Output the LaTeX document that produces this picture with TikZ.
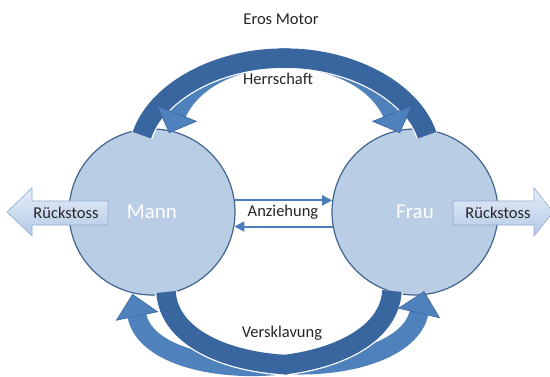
\documentclass[tikz,border=0pt]{standalone}
\usepackage{fontspec}
\setmainfont{Carlito}
\usetikzlibrary{arrows.meta,calc}
\definecolor{circfill}{HTML}{B9CDE5}
\definecolor{circedge}{HTML}{41658F}
\definecolor{lt}{HTML}{4F81BD}
\definecolor{dk}{HTML}{3A669F}
\definecolor{headedge}{HTML}{3A64A0}
\definecolor{txt}{HTML}{262626}
\definecolor{rtop}{HTML}{E6EEF8}
\definecolor{rbot}{HTML}{B3C8E6}
\definecolor{redge}{HTML}{8DAAD6}
\definecolor{anz}{HTML}{4A7EBB}

% part of a Bezier band (prefix s,p,q,b), from time 0 to #2, stroked with colour #3 and width #4
\newcommand{\bezseg}[4]{%
  \begin{pgfscope}
  \pgfsetbuttcap
  \pgfsetlinewidth{#4}\pgfsetstrokecolor{#3}
  \pgfpathcurvebetweentime{0}{#2}{\pgfpointanchor{#1s}{center}}{\pgfpointanchor{#1p}{center}}{\pgfpointanchor{#1q}{center}}{\pgfpointanchor{#1b}{center}}
  \pgfusepath{stroke}
  \end{pgfscope}}

\tikzset{
  person/.style={circle, minimum size=166pt, inner sep=0pt, fill=circfill, draw=circedge, line width=1.2pt,
    text=white, font=\fontsize{21}{24}\selectfont},
  lbl/.style={text=txt, font=\fontsize{16.5}{19}\selectfont, inner sep=0pt},
  lightband/.style={draw=lt, line width=19pt, line cap=butt},
  halo/.style={draw=white, line width=22pt, line cap=butt},
  darkband/.style={draw=dk, line width=19.5pt, line cap=butt},
  headtri/.style={fill=lt, draw=headedge, line width=0.6pt, line join=miter},
  anzarrow/.style={draw=anz, line width=2pt, -{Triangle[length=10pt,width=10pt]}},
  rueck/.style={top color=rtop, bottom color=rbot, draw=redge, line width=0.6pt},
}

\begin{document}
\begin{tikzpicture}[x=1pt,y=-1pt]
\useasboundingbox (0,0) rectangle (550,377);
\fill[white] (0,0) rectangle (550,377);

% circles
\node[person] (mann) at (152,212) {Mann};
\node[person] (frau) at (415,212) {Frau};

% ---- top arrows: elliptical arcs moving from an outer to an inner ellipse
% centre (284.5,148); outer a=144,b=92; inner a=117,b=88
\draw[lightband] plot[domain=172:23, samples=70, variable=\t]
  ({284.5+(144-27*(172-\t)/149)*cos(\t)}, {148-(92-4*(172-\t)/149)*sin(\t)});
\draw[lightband] plot[domain=8:157, samples=70, variable=\t]
  ({284.5+(144-27*(\t-8)/149)*cos(\t)}, {148-(92-4*(\t-8)/149)*sin(\t)});

\coordinate (a1b) at ({284.5+117*cos(23)},{148-88*sin(23)});
\coordinate (a1t) at ({284.5+117*cos(10)},{148-88*sin(10)});
\coordinate (a2b) at ({284.5+117*cos(157)},{148-88*sin(157)});
\coordinate (a2t) at ({284.5+117*cos(170)},{148-88*sin(170)});

% ---- bottom arrows: Bezier curves, s start, p/q controls, b head base
\coordinate (a3s) at (166,292);
\coordinate (a3p) at (172,385);
\coordinate (a3q) at (402,386);
\coordinate (a3b) at (419,313);
\coordinate (a4s) at (392,291);
\coordinate (a4p) at (386,385);
\coordinate (a4q) at (152,389);
\coordinate (a4b) at (137,316);
\foreach \a in {a3,a4}{
  \coordinate (\a t) at ($(\a b)!-22pt!(\a q)$);
  \draw[lightband] (\a s) .. controls (\a p) and (\a q) .. (\a b);
}

% dark tail parts: white halos first, then the dark bands
\draw[halo] plot[domain=172:90, samples=50, variable=\t]
  ({284.5+(144-27*(172-\t)/149)*cos(\t)}, {148-(92-4*(172-\t)/149)*sin(\t)});
\draw[halo] plot[domain=8:90, samples=50, variable=\t]
  ({284.5+(144-27*(\t-8)/149)*cos(\t)}, {148-(92-4*(\t-8)/149)*sin(\t)});
\bezseg{a3}{0.49}{white}{22pt}
\bezseg{a4}{0.45}{white}{22pt}
\draw[darkband] plot[domain=172:88, samples=50, variable=\t]
  ({284.5+(144-27*(172-\t)/149)*cos(\t)}, {148-(92-4*(172-\t)/149)*sin(\t)});
\draw[darkband] plot[domain=8:92, samples=50, variable=\t]
  ({284.5+(144-27*(\t-8)/149)*cos(\t)}, {148-(92-4*(\t-8)/149)*sin(\t)});
\bezseg{a3}{0.5}{dk}{19.5pt}
\bezseg{a4}{0.46}{dk}{19.5pt}

% heads
\foreach \a in {a1,a2,a3,a4}{
  \coordinate (\a l) at ($(\a b)!21pt!90:(\a t)$);
  \coordinate (\a r) at ($(\a b)!21pt!-90:(\a t)$);
  \filldraw[headtri] (\a t) -- (\a l) -- (\a r) -- cycle;
}

% Anziehung arrows
\draw[anzarrow] (mann.8) -- (frau.172);
\draw[anzarrow] (frau.190) -- (mann.-10);

% Rueckstoss arrows
\shadedraw[rueck] (7,212) -- (32,188) -- (32,201) -- (108,201) -- (108,225) -- (32,225) -- (32,236) -- cycle;
\shadedraw[rueck] (553,212) -- (534,188) -- (534,201) -- (453,201) -- (453,225) -- (534,225) -- (534,236) -- cycle;

% texts
\node[lbl] (eros) at (281,19) {Eros Motor};
\node[lbl] (herr) at (278,79) {Herrschaft};
\node[lbl] (anzt) at (283,212) {Anziehung};
\node[lbl] (vers) at (282,333) {Versklavung};
\node[lbl] (rl) at (66,213) {Rückstoss};
\node[lbl] (rr) at (498,213) {Rückstoss};
\end{tikzpicture}
\end{document}
